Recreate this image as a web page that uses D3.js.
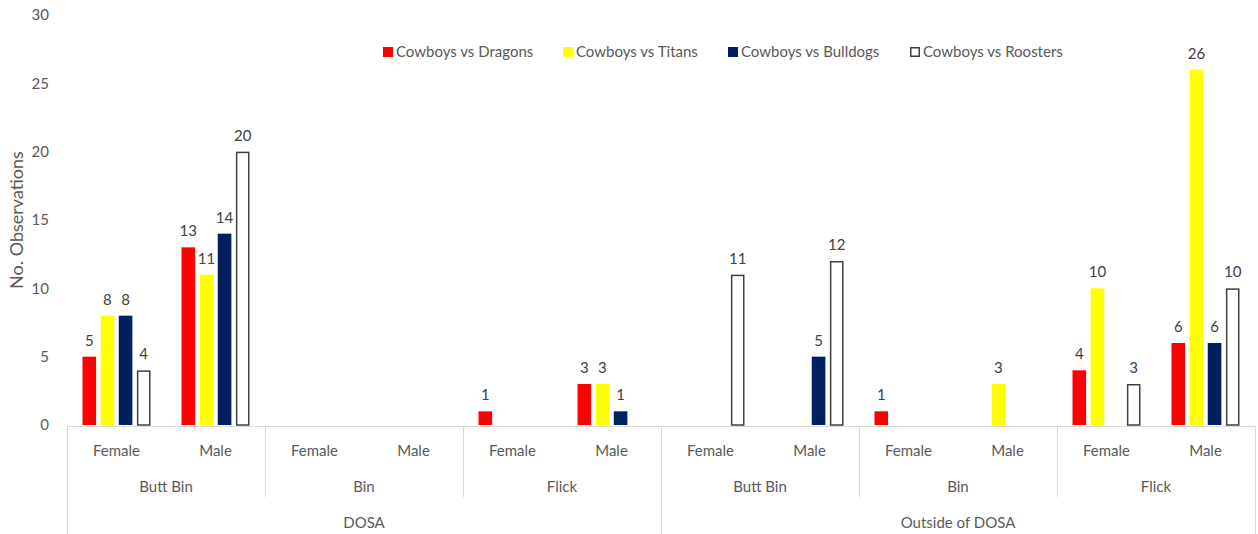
<!DOCTYPE html>
<html>
<head>
<meta charset="utf-8">
<script src="https://cdn.jsdelivr.net/npm/d3@7"></script>
<style>
  html, body { margin: 0; padding: 0; background: #fff; }
  svg { display: block; }
  text { font-family: Lato, "Open Sans", sans-serif; }
</style>
</head>
<body>
<svg id="chart" width="1258" height="534"></svg>
<script>
// ---- data ----
const locations = ["DOSA", "Outside of DOSA"];
const methods = ["Butt Bin", "Bin", "Flick"];
const sexes = ["Female", "Male"];
const seriesNames = ["Cowboys vs Dragons", "Cowboys vs Titans", "Cowboys vs Bulldogs", "Cowboys vs Roosters"];
// order: DOSA(ButtBin F,M, Bin F,M, Flick F,M), Outside(ButtBin F,M, Bin F,M, Flick F,M)
const dragons  = [5, 13, 0, 0, 1, 3,   0, 0, 1, 0, 4, 6];
const titans   = [8, 11, 0, 0, 0, 3,   0, 0, 0, 3, 10, 26];
const bulldogs = [8, 14, 0, 0, 0, 1,   0, 5, 0, 0, 0, 6];
const roosters = [4, 20, 0, 0, 0, 0,   11, 12, 0, 0, 3, 10];
const yTicks = [0, 5, 10, 15, 20, 25, 30];
const yTitle = "No. Observations";

(function () {
// ---- build ----
const seriesValues = [dragons, titans, bulldogs, roosters];
const fills = ["#FF0000", "#FFFF00", "#002060", "#FFFFFF"];
const strokes = ["none", "none", "none", "#404040"];

const categories = [];
locations.forEach(loc => methods.forEach(m => sexes.forEach(s => categories.push(loc + "|" + m + "|" + s))));

const svg = d3.select("#chart");
const pLeft = 67, pRight = 1255, pTop = 15, pBottom = 425;

const x = d3.scaleBand().domain(categories).range([pLeft, pRight]).paddingInner(0).paddingOuter(0);
const y = d3.scaleLinear().domain([0, 30]).range([pBottom, pTop]);
const xs = d3.scaleBand().domain(d3.range(4)).range([-34, 34]).paddingInner(0.25).paddingOuter(0.0);

// y axis tick labels
const yAxis = d3.axisLeft(y).tickValues(yTicks).tickSize(0).tickPadding(0);
const yG = svg.append("g").attr("transform", `translate(49,0)`).call(yAxis);
yG.select(".domain").remove();
yG.selectAll("text").attr("fill", "#595959").style("font-size", "15px").style("font-family", "Lato, sans-serif");

// y title
svg.append("text")
  .attr("transform", "translate(23,220) rotate(-90)")
  .attr("text-anchor", "middle")
  .attr("fill", "#595959")
  .style("font-size", "18px")
  .text(yTitle);

// category axis lines
const grid = svg.append("g").attr("stroke", "#d9d9d9").attr("stroke-width", 1).attr("fill", "none");
grid.append("line").attr("x1", pLeft).attr("x2", pRight).attr("y1", pBottom + 1.5).attr("y2", pBottom + 1.5);
const bw = x.bandwidth();
for (let i = 0; i <= categories.length; i += 2) {
  const xx = Math.round(pLeft + i * bw) + 0.5;
  const long = (i % 6 === 0);
  grid.append("line").attr("x1", xx).attr("x2", xx).attr("y1", pBottom + 1.5).attr("y2", long ? 534 : 497);
}

// bars
const barG = svg.append("g");
seriesValues.forEach((vals, si) => {
  const d0 = vals.map((v, i) => ({ v, c: categories[i] })).filter(d => d.v > 0);
  const o = si === 3 ? 0.75 : 0;
  barG.selectAll(null).data(d0)
    .enter().append("rect")
    .attr("x", d => x(d.c) + bw / 2 + xs(si) + o)
    .attr("width", xs.bandwidth() - 2 * o)
    .attr("y", d => y(d.v) + o)
    .attr("height", d => y(0) - y(d.v) - o)
    .attr("fill", fills[si])
    .attr("stroke", strokes[si])
    .attr("stroke-width", si === 3 ? 1.5 : 0);
  barG.selectAll(null).data(d0)
    .enter().append("text")
    .attr("x", d => x(d.c) + bw / 2 + xs(si) + xs.bandwidth() / 2)
    .attr("y", d => y(d.v) - 11)
    .attr("text-anchor", "middle")
    .attr("fill", "#404040")
    .style("font-size", "15px")
    .text(d => d.v);
});

// category labels
const lab = svg.append("g").attr("fill", "#595959").style("font-size", "15px").attr("text-anchor", "middle");
categories.forEach(c => {
  lab.append("text").attr("x", x(c) + bw / 2).attr("y", 456).text(c.split("|")[2]);
});
locations.forEach((loc, li) => methods.forEach((m, mi) => {
  const c0 = categories[li * 6 + mi * 2];
  lab.append("text").attr("x", x(c0) + bw).attr("y", 492).text(m);
}));
locations.forEach((loc, li) => {
  const c0 = categories[li * 6];
  lab.append("text").attr("x", x(c0) + bw * 3).attr("y", 528).text(loc);
});

// legend
const legendX = [383, 563, 728, 910];
const leg = svg.append("g");
seriesNames.forEach((name, si) => {
  const g = leg.append("g").attr("transform", `translate(${legendX[si]},47)`);
  const o = si === 3 ? 0.75 : 0;
  g.append("rect").attr("x", o).attr("y", o)
    .attr("width", 10 - 2 * o).attr("height", 10 - 2 * o)
    .attr("fill", fills[si]).attr("stroke", strokes[si]).attr("stroke-width", si === 3 ? 1.5 : 0);
  g.append("text").attr("x", 13).attr("y", 10).attr("fill", "#595959").style("font-size", "15px").text(name);
});
})();
</script>
</body>
</html>
